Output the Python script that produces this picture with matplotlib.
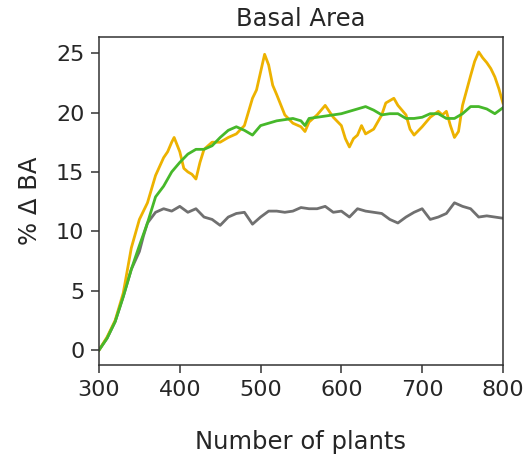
import matplotlib
matplotlib.use("Agg")
import matplotlib.pyplot as plt
import numpy as np

x_orange = [300, 310, 320, 330, 340, 350, 360, 370, 380, 385, 390, 393, 400, 405, 410, 415, 420, 425, 430, 440,
            450, 460, 470, 480, 490, 495, 500, 505, 510, 515, 520, 530, 540, 550, 555, 560, 570, 580, 585, 590,
            600, 605, 610, 615, 620, 625, 630, 640, 650, 655, 660, 665, 670, 680, 685, 690, 700, 710, 720, 725,
            730, 735, 740, 745, 750, 760, 765, 770, 775, 780, 785, 790, 795, 800]
y_orange = [0.0, 1.1, 2.5, 4.8, 8.6, 11.0, 12.4, 14.7, 16.2, 16.7, 17.5, 17.9, 16.7, 15.3, 15.0, 14.8, 14.4, 15.8, 16.9, 17.5,
            17.5, 17.9, 18.2, 18.9, 21.2, 21.9, 23.4, 24.9, 24.0, 22.3, 21.5, 19.8, 19.1, 18.8, 18.4, 19.2, 19.8, 20.6, 20.1, 19.6,
            18.9, 17.8, 17.1, 17.8, 18.1, 18.9, 18.2, 18.6, 19.8, 20.8, 21.0, 21.2, 20.6, 19.8, 18.6, 18.1, 18.8, 19.6, 20.1, 19.8,
            20.1, 18.9, 17.9, 18.4, 20.6, 23.1, 24.3, 25.1, 24.6, 24.2, 23.7, 23.0, 22.0, 20.8]

x_green = [300, 310, 320, 330, 340, 350, 360, 370, 380, 390, 400, 410, 420, 430, 440, 450, 460, 470, 480, 490,
           500, 510, 520, 530, 540, 550, 555, 560, 570, 580, 590, 600, 610, 620, 630, 640, 650, 660, 670, 680,
           690, 700, 710, 720, 730, 740, 750, 760, 770, 780, 790, 800]
y_green = [0.0, 1.0, 2.4, 4.5, 6.8, 8.8, 10.7, 12.9, 13.8, 15.0, 15.8, 16.5, 16.9, 16.9, 17.2, 17.9, 18.5, 18.8, 18.5, 18.1,
           18.9, 19.1, 19.3, 19.4, 19.5, 19.3, 18.9, 19.5, 19.6, 19.7, 19.8, 19.9, 20.1, 20.3, 20.5, 20.2, 19.8, 19.9, 19.9, 19.5,
           19.5, 19.6, 19.9, 19.9, 19.5, 19.5, 19.9, 20.5, 20.5, 20.3, 19.9, 20.4]

x_gray = [300, 310, 320, 330, 340, 350, 355, 360, 370, 380, 390, 400, 410, 420, 430, 440, 450, 460, 470, 480,
          490, 500, 510, 520, 530, 540, 550, 560, 570, 580, 590, 600, 610, 620, 630, 640, 650, 660, 670, 680,
          690, 700, 710, 720, 730, 740, 750, 760, 770, 780, 790, 800]
y_gray = [0.0, 1.0, 2.4, 4.5, 6.8, 8.3, 9.6, 10.7, 11.6, 11.9, 11.7, 12.1, 11.6, 11.9, 11.2, 11.0, 10.5, 11.2, 11.5, 11.6,
          10.6, 11.2, 11.7, 11.7, 11.6, 11.7, 12.0, 11.9, 11.9, 12.1, 11.6, 11.7, 11.2, 11.9, 11.7, 11.6, 11.5, 11.0, 10.7, 11.2,
          11.6, 11.9, 11.0, 11.2, 11.5, 12.4, 12.1, 11.9, 11.2, 11.3, 11.2, 11.1]

title = "Basal Area"
xlabel = "Number of plants"
ylabel = "% Δ BA"
xticks = [300, 400, 500, 600, 700, 800]
yticks = [0, 5, 10, 15, 20, 25]

text_color = "#262626"
fig = plt.figure(figsize=(5.28, 4.57), dpi=100)
ax = fig.add_axes([0.1875, 0.2013, 0.765, 0.7177])
ax.plot(x_gray, y_gray, color="#707070", lw=2)
ax.plot(x_orange, y_orange, color="#EDB200", lw=2)
ax.plot(x_green, y_green, color="#46B82A", lw=2)
ax.set_xlim(300, 800)
ax.set_xticks(xticks)
ax.set_yticks(yticks)
for s in ax.spines.values():
    s.set_linewidth(1.1)
    s.set_color("#333333")
ax.tick_params(labelsize=16, length=5.5, width=1.1, pad=5, colors="#333333", labelcolor=text_color)
ax.set_title(title, fontsize=17.5, pad=8, color=text_color)
ax.set_xlabel(xlabel, fontsize=17.5, labelpad=22, color=text_color)
ax.set_ylabel(ylabel, fontsize=17.5, labelpad=10, color=text_color)
fig.savefig("out.png", dpi=100)
